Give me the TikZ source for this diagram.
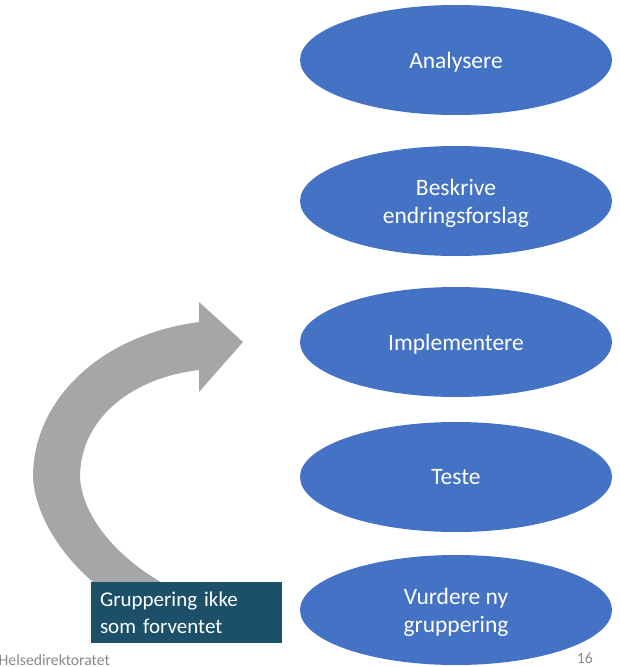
\documentclass[tikz,border=0pt]{standalone}
\usepackage{fontspec}
\setmainfont{Carlito}
\usetikzlibrary{shapes.geometric}
\definecolor{stegblaa}{HTML}{4472C4}
\definecolor{avvikfarge}{HTML}{1B5068}
\definecolor{pilgraa}{HTML}{A6A6A6}
\definecolor{fotgraa}{HTML}{898989}
\begin{document}
\begin{tikzpicture}[x=1pt,y=-1pt,
    steg/.style={ellipse,fill=stegblaa,text=white,inner sep=0pt,
      minimum width=312pt,minimum height=110pt,align=center,text depth=-1.5pt,
      font=\fontsize{23.5}{28}\selectfont},
    avvik/.style={rectangle,fill=avvikfarge,text=white,inner sep=0pt,
      minimum width=191pt,minimum height=61pt,text width=173pt,align=left,
      font=\fontsize{21}{27}\selectfont},
    fot/.style={text=fotgraa,inner sep=0pt,font=\fontsize{15.7}{18}\selectfont}]
  \useasboundingbox (0,0) rectangle (620,667);
  % gray return arrow
  \fill[pilgraa] (199,322) .. controls (100,335) and (33,400) .. (33,477)
    .. controls (35,520) and (70,570) .. (115,598) -- (175,590)
    .. controls (120,562) and (82,518) .. (80,477)
    .. controls (80,420) and (130,378) .. (199,370)
    -- (199,392) -- (243,342) -- (199,302) -- cycle;
  % steps
  \node[steg] (analysere) at (456,60) {Analysere};
  \node[steg] (beskrive) at (456,201) {Beskrive\\endringsforslag};
  \node[steg] (implementere) at (456,342) {Implementere};
  \node[steg] (teste) at (456,477) {Teste};
  \node[steg] (vurdere) at (456,610) {Vurdere ny\\gruppering};
  \node[avvik] (gruppering) at (186.5,612.5) {Gruppering ikke\\som forventet};
  % footer
  \node[fot,anchor=base east] (fotnavn) at (110,665) {Helsedirektoratet};
  \node[fot,anchor=base east] (sidetall) at (593,663) {16};
\end{tikzpicture}
\end{document}
